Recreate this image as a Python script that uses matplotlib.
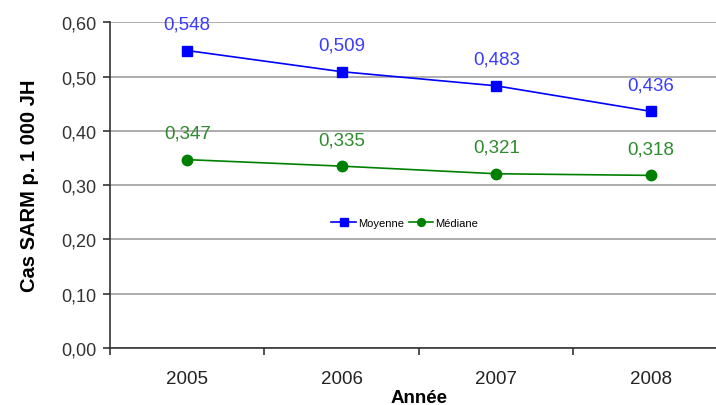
import numpy as np
import matplotlib
matplotlib.use("Agg")
import matplotlib.pyplot as plt

# data
annees = ["2005", "2006", "2007", "2008"]
moyenne = [0.548, 0.509, 0.483, 0.436]
mediane = [0.347, 0.335, 0.321, 0.318]
yticks = [0.0, 0.1, 0.2, 0.3, 0.4, 0.5, 0.6]

plt.rcParams["font.family"] = ["Liberation Sans", "DejaVu Sans"]

fig = plt.figure(figsize=(7.16, 4.06), dpi=100)
ax = fig.add_axes([0.1536, 0.1404, 0.8631, 0.8022])

x = np.arange(len(annees))
ax.plot(x, moyenne, color="#0000ff", lw=1.2, marker="s", ms=7.5, label="Moyenne")
ax.plot(x, mediane, color="#008000", lw=1.2, marker="o", ms=7.5, label="Médiane")

for xi, v in zip(x, moyenne):
    ax.annotate(f"{v:.3f}".replace(".", ","), (xi, v), xytext=(0, 13),
                textcoords="offset points", ha="center", va="bottom",
                color="#3b3bff", fontsize=13.5)
for xi, v in zip(x, mediane):
    ax.annotate(f"{v:.3f}".replace(".", ","), (xi, v), xytext=(0, 13),
                textcoords="offset points", ha="center", va="bottom",
                color="#2e8b2e", fontsize=13.5)

ax.set_xlim(-0.5, 3.5)
ax.set_ylim(0, 0.6)
ax.set_yticks(yticks)
ax.set_yticklabels([f"{t:.2f}".replace(".", ",") for t in yticks], fontsize=13, color="#333333")
ax.yaxis.grid(True, color="#a0a0a0", lw=1.2)
ax.set_axisbelow(True)

ax.set_xticks([-0.5, 0.5, 1.5, 2.5, 3.5])
ax.set_xticklabels([])
ax.set_xticks(x, minor=True)
ax.set_xticklabels(annees, minor=True, fontsize=13.5, color="#222222")
ax.tick_params(axis="x", which="minor", length=0, pad=16)
ax.tick_params(axis="x", which="major", length=5, width=1.2, color="#333333")
ax.tick_params(axis="y", length=5, width=1.2, color="#333333", pad=5)

for s in ["top", "right"]:
    ax.spines[s].set_visible(False)
for s in ["left", "bottom"]:
    ax.spines[s].set_color("#333333")
    ax.spines[s].set_linewidth(1.2)

ax.set_ylabel("Cas SARM p. 1 000 JH", fontsize=14.5, fontweight="bold", labelpad=16)
ax.set_xlabel("Année", fontsize=13.5, fontweight="bold", labelpad=1)

ax.legend(loc="center", bbox_to_anchor=(0.477, 0.383), ncol=2, frameon=False,
          fontsize=8, handlelength=2.2, handletextpad=0.2, columnspacing=0.4,
          markerscale=0.75)

fig.savefig("out.png", dpi=100)
